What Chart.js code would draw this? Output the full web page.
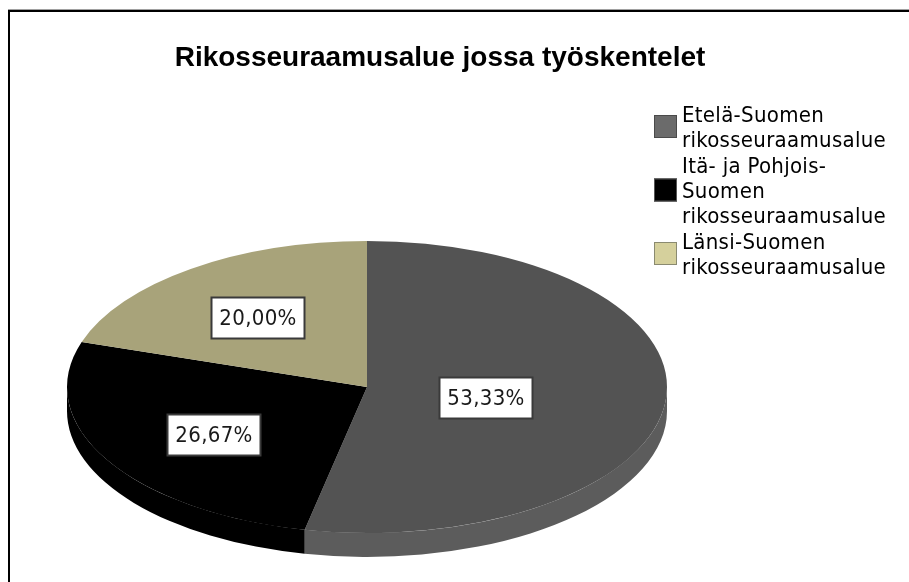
<!DOCTYPE html>
<html>
<head>
<meta charset="utf-8">
<script src="https://cdn.jsdelivr.net/npm/chart.js@4"></script>
<style>
  html, body { margin: 0; padding: 0; background: #fff; }
  #c { display: block; }
</style>
</head>
<body>
<canvas id="c" width="909" height="582"></canvas>
<script>
// ---- data ----
const chartTitle = "Rikosseuraamusalue jossa työskentelet";
const categories = [
  ["Etelä-Suomen", "rikosseuraamusalue"],
  ["Itä- ja Pohjois-", "Suomen", "rikosseuraamusalue"],
  ["Länsi-Suomen", "rikosseuraamusalue"]
];
const values = [53.33, 26.67, 20.00];
const valueLabels = ["53,33%", "26,67%", "20,00%"];

// ---- styles ----
const topColors = ["#535353", "#000000", "#a8a37a"];
const sideColors = ["#5c5c5c", "#000000", "#8a8660"];
const legendColors = ["#6b6b6b", "#000000", "#d5d09c"];
const legendBorders = ["#4a4a4a", "#555555", "#8a8a70"];
const textFont = '22px "DejaVu Sans Condensed", "DejaVu Sans", sans-serif';
const titleFont = 'bold 28px "Liberation Sans", Arial, sans-serif';
const depth = 24;

const pie3d = {
  id: "pie3d",
  beforeDraw(chart) {
    const ctx = chart.ctx;
    ctx.save();
    ctx.fillStyle = "#ffffff";
    ctx.fillRect(0, 0, chart.width, chart.height);
    // frame (top + left edges)
    ctx.fillStyle = "#a0a0a0";
    ctx.fillRect(8, 9, chart.width - 8, 1);
    ctx.fillStyle = "#000000";
    ctx.fillRect(8, 10, chart.width - 8, 2);
    ctx.fillRect(8, 10, 2, chart.height - 10);
    // title
    ctx.fillStyle = "#000000";
    ctx.font = titleFont;
    ctx.textAlign = "center";
    ctx.textBaseline = "alphabetic";
    ctx.fillText(chartTitle, 440, 66);
    // legend
    ctx.font = textFont;
    if ("letterSpacing" in ctx) ctx.letterSpacing = "0.3px";
    ctx.textAlign = "left";
    let base = 122;
    const lh = 25;
    categories.forEach((lines, i) => {
      const first = base;
      const last = base + (lines.length - 1) * lh;
      const cy = (first + last) / 2 - 8;
      ctx.fillStyle = legendColors[i];
      ctx.fillRect(654, cy - 11.5, 23, 23);
      ctx.strokeStyle = legendBorders[i];
      ctx.lineWidth = 1;
      ctx.strokeRect(654.5, cy - 11, 22, 22);
      ctx.fillStyle = "#000000";
      lines.forEach((t, k) => ctx.fillText(t, 682, base + k * lh));
      base = last + lh + 1;
    });
    ctx.restore();
  },
  beforeDatasetsDraw(chart) {
    const ctx = chart.ctx;
    const ca = chart.chartArea;
    const meta = chart.getDatasetMeta(0);
    const rx = (ca.right - ca.left) / 2;
    // side walls
    meta.data.forEach((arc, i) => {
      const p = arc.getProps(["x", "y", "startAngle", "endAngle", "outerRadius"]);
      const a1 = Math.max(p.startAngle, 0);
      const a2 = Math.min(p.endAngle, Math.PI);
      if (a2 > a1) {
        ctx.beginPath();
        ctx.ellipse(p.x, p.y, rx, p.outerRadius, 0, a1, a2);
        ctx.ellipse(p.x, p.y + depth, rx, p.outerRadius, 0, a2, a1, true);
        ctx.closePath();
        ctx.fillStyle = sideColors[i];
        ctx.fill();
      }
    });
    const a0 = meta.data[0];
    const sx = rx / a0.outerRadius;
    ctx.save();
    ctx.translate(a0.x, a0.y);
    ctx.scale(sx, 1);
    ctx.translate(-a0.x, -a0.y);
  },
  afterDatasetsDraw(chart) {
    const ctx = chart.ctx;
    ctx.restore();
    const ca = chart.chartArea;
    const rx = (ca.right - ca.left) / 2;
    const meta = chart.getDatasetMeta(0);
    ctx.save();
    ctx.font = textFont;
    if ("letterSpacing" in ctx) ctx.letterSpacing = "0.3px";
    ctx.textAlign = "center";
    ctx.textBaseline = "middle";
    meta.data.forEach((arc, i) => {
      const p = arc.getProps(["x", "y", "startAngle", "endAngle", "outerRadius"]);
      const half = (p.endAngle - p.startAngle) / 2;
      const mid = p.startAngle + half;
      const f = (2 / 3) * Math.sin(half) / half; // sector centroid
      const lx = p.x + f * rx * Math.cos(mid);
      const ly = p.y + f * p.outerRadius * Math.sin(mid) + 4;
      const w = Math.round(ctx.measureText(valueLabels[i]).width + 16);
      const h = 41;
      const bx = Math.round(lx - w / 2) + 0.5;
      const by = Math.round(ly - h / 2) + 0.5;
      ctx.fillStyle = "#ffffff";
      ctx.fillRect(bx, by, w, h);
      ctx.strokeStyle = "#3a3a3a";
      ctx.lineWidth = 2;
      ctx.strokeRect(bx, by, w, h);
      ctx.fillStyle = "#1a1a1a";
      ctx.fillText(valueLabels[i], bx + w / 2, by + h / 2 + 1);
    });
    ctx.restore();
  }
};

new Chart(document.getElementById("c"), {
  type: "pie",
  data: {
    labels: categories,
    datasets: [{
      data: values,
      backgroundColor: topColors,
      borderWidth: 0,
      hoverOffset: 0
    }]
  },
  options: {
    responsive: false,
    animation: false,
    devicePixelRatio: 1,
    events: [],
    layout: { padding: { left: 67, right: 242, top: 241, bottom: 49 } },
    plugins: {
      legend: { display: false },
      title: { display: false },
      tooltip: { enabled: false }
    }
  },
  plugins: [pie3d]
});
</script>
</body>
</html>
